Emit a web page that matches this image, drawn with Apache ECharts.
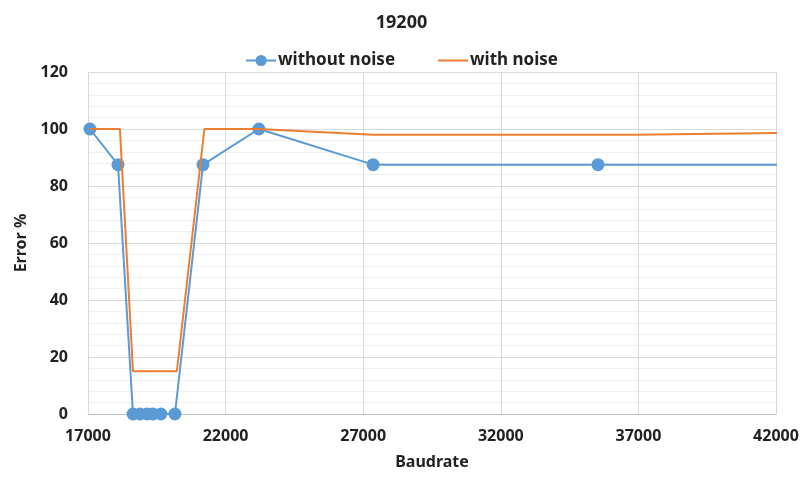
<!DOCTYPE html>
<html>
<head>
<meta charset="utf-8">
<script src="https://cdn.jsdelivr.net/npm/echarts@6/dist/echarts.min.js"></script>
<style>
html,body{margin:0;padding:0;background:#fff;}
#chart{width:803px;height:478px;}
</style>
</head>
<body>
<div id="chart"></div>
<script>
// values
var titleText = '19200';
var seriesNames = ['without noise', 'with noise'];
var withoutNoise = [
	[17070, 100], [18090, 87.5], [18635, 0], [18890, 0], [19145, 0],
	[19360, 0], [19650, 0], [20160, 0], [21180, 87.5], [23210, 100],
	[27360, 87.5], [35530, 87.5], [48000, 87.5]
];
var withNoise = [
	[17070, 100], [18160, 100], [18635, 15], [20230, 15], [21230, 100],
	[23210, 100], [27360, 98], [36900, 98], [45000, 99]
];
var xTicks = [17000, 22000, 27000, 32000, 37000, 42000];

var chart = echarts.init(document.getElementById('chart'));
var font = 'Noto Sans';
var option = {
	backgroundColor: '#fff',
	title: {
		text: titleText,
		left: 'center',
		top: 9,
		textStyle: { fontFamily: font, fontSize: 18, fontWeight: 'bold', color: '#222' }
	},
	legend: {
		data: [
			{ name: seriesNames[0] },
			{ name: seriesNames[1], itemStyle: { opacity: 0 } }
		],
		top: 47,
		left: 'center',
		itemGap: 42,
		itemWidth: 30,
		itemHeight: 14,
		textStyle: { fontFamily: font, fontSize: 17, fontWeight: 'bold', color: '#222', padding: [0, 0, 0, -3] }
	},
	grid: { left: 88, right: 27, top: 72, bottom: 64 },
	xAxis: {
		type: 'value',
		min: 17000, max: 42000, interval: 5000,
		name: 'Baudrate',
		nameLocation: 'middle',
		nameGap: 40,
		nameTextStyle: { fontFamily: font, fontSize: 16, fontWeight: 'bold', color: '#222' },
		axisLine: { show: true, lineStyle: { color: '#bfbfbf' } },
		axisTick: { show: false },
		axisLabel: {
			fontFamily: font, fontSize: 16, fontWeight: 'bold', color: '#222', margin: 14,
			formatter: function (v) { return xTicks.indexOf(v) >= 0 ? String(v) : ''; }
		},
		splitLine: { show: true, lineStyle: { color: '#d9d9d9' } }
	},
	yAxis: {
		type: 'value',
		min: 0, max: 120, interval: 20,
		name: 'Error %',
		nameLocation: 'middle',
		nameGap: 56,
		nameTextStyle: { fontFamily: font, fontSize: 16, fontWeight: 'bold', color: '#222' },
		axisLine: { show: true, lineStyle: { color: '#d9d9d9' } },
		axisTick: { show: false },
		axisLabel: { fontFamily: font, fontSize: 16, fontWeight: 'bold', color: '#222', margin: 20 },
		splitLine: { show: true, lineStyle: { color: '#d9d9d9' } },
		minorTick: { show: false, splitNumber: 5 },
		minorSplitLine: { show: true, lineStyle: { color: '#f0f0f0' } }
	},
	series: [
		{
			name: seriesNames[0],
			type: 'line',
			data: withoutNoise,
			symbol: 'circle',
			symbolSize: 13,
			showAllSymbol: true,
			clip: true,
			lineStyle: { width: 2, color: '#5b9bd5' },
			itemStyle: { color: '#5b9bd5' },
			z: 2
		},
		{
			name: seriesNames[1],
			type: 'line',
			data: withNoise,
			symbol: 'none',
			clip: true,
			lineStyle: { width: 2, color: '#ed7d31' },
			itemStyle: { color: '#ed7d31' },
			z: 3
		}
	]
};
chart.setOption(option);
</script>
</body>
</html>
